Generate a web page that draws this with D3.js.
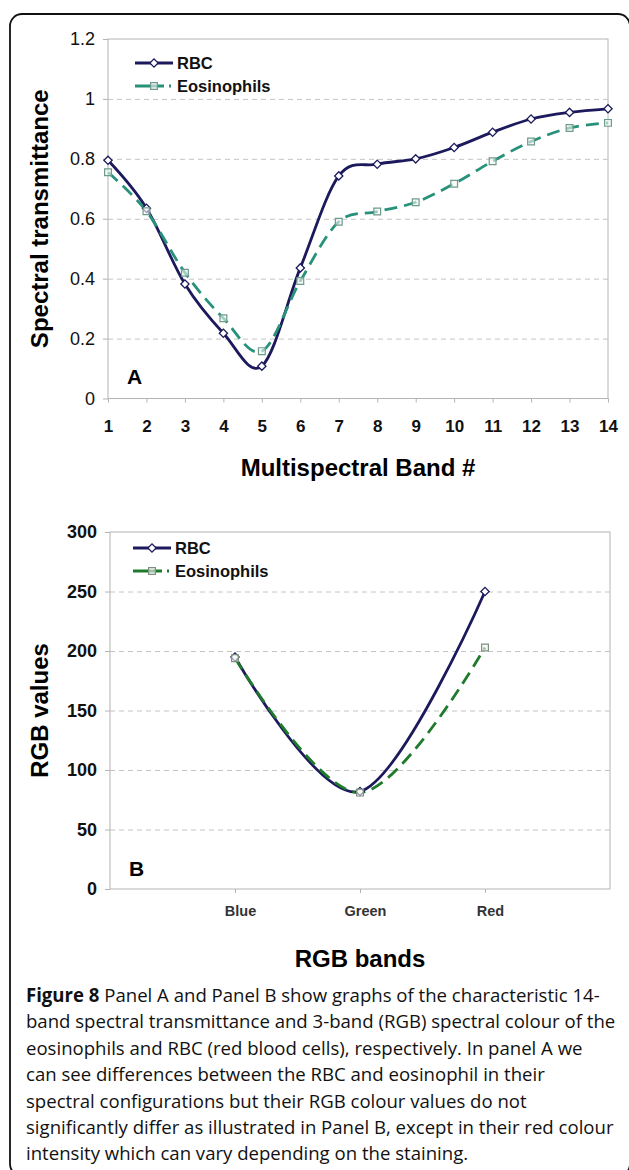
<!DOCTYPE html>
<html>
<head>
<meta charset="utf-8">
<script src="https://cdn.jsdelivr.net/npm/d3@7"></script>
<style>
  body { margin: 0; background: #fff; }
  svg { display: block; }
  .tick text { font-family: "Liberation Sans", Arial, sans-serif; fill: #111; }
  .caption { font-family: "Open Sans", "Noto Sans", sans-serif; font-size: 19px; fill: #111; }
</style>
</head>
<body>
<div id="figure"></div>
<script>
//////////////// DATA ////////////////

// Panel A - 14 band spectral transmittance
var bandLabels = [1, 2, 3, 4, 5, 6, 7, 8, 9, 10, 11, 12, 13, 14];
var rbcTransmittance = [0.795, 0.635, 0.382, 0.218, 0.108, 0.436, 0.743, 0.782, 0.800, 0.838, 0.889, 0.933, 0.955, 0.967];
var eosTransmittance = [0.755, 0.625, 0.420, 0.268, 0.158, 0.392, 0.590, 0.624, 0.655, 0.717, 0.792, 0.858, 0.903, 0.920];
var transmittanceTicks = [0, 0.2, 0.4, 0.6, 0.8, 1, 1.2];

// Panel B - RGB colour values
var rgbBands = ["Blue", "Green", "Red"];
var rbcRGB = [195, 82, 250];
var eosRGB = [194, 81, 203];
var rgbTicks = [0, 50, 100, 150, 200, 250, 300];

var seriesNames = ["RBC", "Eosinophils"];

var captionLines = [
    "Panel A and Panel B show graphs of the characteristic 14-",
    "band spectral transmittance and 3-band (RGB) spectral colour of the",
    "eosinophils and RBC (red blood cells), respectively. In panel A we",
    "can see differences between the RBC and eosinophil in their",
    "spectral configurations but their RGB colour values do not",
    "significantly differ as illustrated in Panel B, except in their red colour",
    "intensity which can vary depending on the staining."
];

//////////////// STYLE ////////////////

var rbcColor = "#1c1a5c",
    eosColorA = "#27917a",
    eosColorB = "#1f7a2c",
    gridColor = "#c4c4c4",
    frameColor = "#b4b4b4",
    chartFont = '"Liberation Sans", Arial, sans-serif';

var W = 629, H = 1170;

var svg = d3.select("#figure").append("svg")
    .attr("width", W)
    .attr("height", H);

// outer rounded frame of the figure
svg.append("rect")
    .attr("x", 10).attr("y", 14)
    .attr("width", 620).attr("height", 1162)
    .attr("rx", 12)
    .attr("fill", "none")
    .attr("stroke", "#111")
    .attr("stroke-width", 1.8);

var diamond = d3.symbol().type(d3.symbolSquare).size(34);
var square = d3.symbol().type(d3.symbolSquare).size(46);

//////////////// PANEL DRAWING ////////////////

var drawPanel = function(opt) {
    var x = opt.x, y = opt.y;
    var x0 = x.range()[0], x1 = x.range()[1],
        yb = y.range()[0], yt = y.range()[1];
    var g = svg.append("g");

    // plot frame
    g.append("rect")
        .attr("x", x0).attr("y", yt)
        .attr("width", x1 - x0).attr("height", yb - yt)
        .attr("fill", "none")
        .attr("stroke", frameColor)
        .attr("stroke-width", 1);

    // dashed gridlines
    g.append("g")
        .attr("transform", "translate(" + x0 + ",0)")
        .call(d3.axisLeft(y).tickValues(opt.yTicks.filter(function(d) { return d > 0 && d < y.domain()[1]; }))
            .tickSize(-(x1 - x0)).tickFormat(""))
        .call(function(s) {
            s.select(".domain").remove();
            s.selectAll("line").attr("stroke", gridColor).attr("stroke-dasharray", "5,4");
        });

    // y axis
    g.append("g")
        .attr("transform", "translate(" + x0 + ",0)")
        .call(d3.axisLeft(y).tickValues(opt.yTicks).tickSize(5).tickPadding(8).tickFormat(opt.yFormat))
        .call(function(s) {
            s.select(".domain").remove();
            s.selectAll("line").attr("stroke", frameColor);
            s.selectAll("text")
                .style("font-size", "18px")
                .style("font-weight", opt.yBold ? "bold" : "normal");
        });

    // x axis
    g.append("g")
        .attr("transform", "translate(0," + yb + ")")
        .call(d3.axisBottom(x).tickSize(4).tickPadding(opt.xPad))
        .call(function(s) {
            s.select(".domain").remove();
            s.selectAll("line").attr("stroke", frameColor);
            s.selectAll("text")
                .attr("dx", opt.xDx)
                .style("font-size", opt.xFont)
                .style("font-weight", "bold")
                .style("fill", opt.xFill);
        });

    // series lines
    var line = d3.line()
        .x(function(d) { return x(d.k); })
        .y(function(d) { return y(d.v); })
        .curve(d3.curveCardinal.tension(0));

    var rbcPts = opt.cats.map(function(k, i) { return {k: k, v: opt.rbc[i]}; });
    var eosPts = opt.cats.map(function(k, i) { return {k: k, v: opt.eos[i]}; });

    g.append("path").datum(rbcPts)
        .attr("d", line)
        .attr("fill", "none")
        .attr("stroke", rbcColor)
        .attr("stroke-width", 2.8);

    g.append("path").datum(eosPts)
        .attr("d", line)
        .attr("fill", "none")
        .attr("stroke", opt.eosColor)
        .attr("stroke-width", 2.8)
        .attr("stroke-dasharray", "13,7");

    // markers
    g.selectAll(".rbc-marker").data(rbcPts).enter()
        .append("path")
        .attr("class", "rbc-marker")
        .attr("d", diamond)
        .attr("transform", function(d) { return "translate(" + x(d.k) + "," + y(d.v) + ") rotate(45)"; })
        .attr("fill", "#fff")
        .attr("stroke", rbcColor)
        .attr("stroke-width", 1.3);

    g.selectAll(".eos-marker").data(eosPts).enter()
        .append("path")
        .attr("class", "eos-marker")
        .attr("d", square)
        .attr("transform", function(d) { return "translate(" + x(d.k) + "," + y(d.v) + ")"; })
        .attr("fill", "#f4f7f4")
        .attr("fill-opacity", 0.6)
        .attr("stroke", opt.squareStroke)
        .attr("stroke-width", 1.2);

    // legend
    var lg = g.append("g");
    var lx0 = opt.legend[0], lx1 = opt.legend[0] + 38, ly = opt.legend[1];
    lg.append("line")
        .attr("x1", lx0).attr("x2", lx1).attr("y1", ly).attr("y2", ly)
        .attr("stroke", rbcColor).attr("stroke-width", 2.8);
    lg.append("path").attr("d", diamond)
        .attr("transform", "translate(" + (lx0 + 19) + "," + ly + ") rotate(45)")
        .attr("fill", "#fff").attr("stroke", rbcColor).attr("stroke-width", 1.3);
    lg.append("line")
        .attr("x1", lx0).attr("x2", lx1).attr("y1", ly + 23).attr("y2", ly + 23)
        .attr("stroke", opt.eosColor).attr("stroke-width", 2.8)
        .attr("stroke-dasharray", "29,5,2,20");
    lg.append("path").attr("d", square)
        .attr("transform", "translate(" + (lx0 + 19) + "," + (ly + 23) + ")")
        .attr("fill", "#f4f7f4").attr("fill-opacity", 0.6)
        .attr("stroke", opt.squareStroke).attr("stroke-width", 1.2);
    lg.selectAll("text").data(seriesNames).enter()
        .append("text")
        .attr("x", lx1 + 4)
        .attr("y", function(d, i) { return ly + 23 * i + 6; })
        .style("font-family", chartFont)
        .style("font-size", "16.5px")
        .style("font-weight", "bold")
        .style("fill", "#111")
        .text(function(d) { return d; });

    // panel letter
    g.append("text")
        .attr("x", x0 + 19).attr("y", opt.letterY)
        .style("font-family", chartFont)
        .style("font-size", "21px")
        .style("font-weight", "bold")
        .text(opt.letter);

    // axis titles
    g.append("text")
        .attr("transform", "translate(48," + ((yt + yb) / 2) + ") rotate(-90)")
        .attr("text-anchor", "middle")
        .style("font-family", chartFont)
        .style("font-size", "24px")
        .style("font-weight", "bold")
        .text(opt.yTitle);

    g.append("text")
        .attr("x", (x0 + x1) / 2).attr("y", opt.xTitleY)
        .attr("text-anchor", "middle")
        .style("font-family", chartFont)
        .style("font-size", "24px")
        .style("font-weight", "bold")
        .text(opt.xTitle);
};

//////////////// PANEL A ////////////////

drawPanel({
    x: d3.scalePoint().domain(bandLabels).range([108, 608]),
    y: d3.scaleLinear().domain([0, 1.2]).range([398.5, 39]),
    cats: bandLabels,
    rbc: rbcTransmittance,
    eos: eosTransmittance,
    yTicks: transmittanceTicks,
    yFormat: d3.format("~g"),
    yBold: false,
    xPad: 17, xDx: 0, xFont: "17px", xFill: "#111",
    eosColor: eosColorA,
    squareStroke: "#6e9a8c",
    legend: [135, 63],
    letter: "A", letterY: 384,
    yTitle: "Spectral transmittance",
    xTitle: "Multispectral Band #", xTitleY: 476
});

//////////////// PANEL B ////////////////

drawPanel({
    x: d3.scalePoint().domain(rgbBands).range([110, 610]).padding(1),
    y: d3.scaleLinear().domain([0, 300]).range([889, 532]),
    cats: rgbBands,
    rbc: rbcRGB,
    eos: eosRGB,
    yTicks: rgbTicks,
    yFormat: d3.format("d"),
    yBold: true,
    xPad: 13, xDx: 5, xFont: "14.5px", xFill: "#333",
    eosColor: eosColorB,
    squareStroke: "#7f8f80",
    legend: [133, 548],
    letter: "B", letterY: 876,
    yTitle: "RGB values",
    xTitle: "RGB bands", xTitleY: 967
});

//////////////// CAPTION ////////////////

var cap = svg.append("g")
    .attr("class", "caption")
    .attr("transform", "translate(26,0)");

var capLines = cap.selectAll("text").data(captionLines).enter()
    .append("text")
    .attr("x", 0)
    .attr("y", function(d, i) { return 1002 + i * 26.4; });

capLines.each(function(d, i) {
    var t = d3.select(this);
    if (i == 0) {
        t.append("tspan").style("font-weight", "bold").text("Figure 8 ");
    }
    t.append("tspan").text(d);
});

// squeeze the caption horizontally so the long line fits like the original
var longW = capLines.nodes()[5].getComputedTextLength();
var k = 588 / longW;
cap.attr("transform", "translate(26,0) scale(" + k + ",1)");
</script>
</body>
</html>
